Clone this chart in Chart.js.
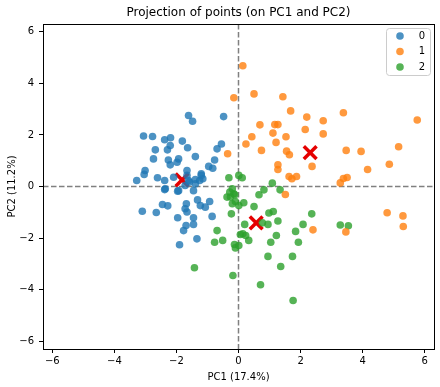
<!DOCTYPE html>
<html>
<head>
<meta charset="utf-8">
<script src="https://cdn.jsdelivr.net/npm/chart.js@4.4.1/dist/chart.umd.min.js"></script>
<style>
  html, body { margin: 0; padding: 0; background: #fff; }
  #wrap { width: 440px; height: 387px; }
</style>
</head>
<body>
<div id="wrap"><canvas id="grafica" width="440" height="387"></canvas></div>
<script>
// Datos (PC1, PC2) por grupo
var blueX = [-1.48, -1.61, -0.48, -3.06, -2.77, -2.38, -2.19, -1.81, -2.20, -2.68, -2.29, -1.64, -0.55, -0.69, -2.74, -2.26, -1.93, -1.39, -2.20, -1.98, -0.77, -0.96, -0.83, -3.01, -3.04, -2.61, -3.28, -2.38, -2.09, -1.66, -1.20, -1.39, -1.25, -1.58, -1.66, -1.20, -1.15, -1.61, -1.39, -2.38, -2.36, -1.93, -1.96, -1.45, -1.72, -1.32, -0.93, -2.45, -2.28, -1.68, -1.23, -1.07, -3.10, -2.65, -1.72, -1.66, -1.96, -1.45, -0.85, -1.69, -1.45, -1.77, -1.34, -1.90];
var blueY = [2.53, 2.75, 2.71, 1.96, 1.94, 1.81, 1.89, 1.76, 1.59, 1.42, 1.42, 1.50, 1.65, 1.46, 1.07, 1.03, 1.07, 1.16, 0.84, 0.94, 1.03, 0.78, 0.71, 0.62, 0.47, 0.34, 0.23, 0.23, 0.36, 0.62, 0.49, 0.27, 0.23, 0.17, 0.43, 0.43, 0.30, 0.23, 0.10, -0.12, -0.09, -0.16, -0.18, -0.16, 0.04, -0.52, -0.58, -0.70, -0.75, -0.67, -0.74, -0.80, -0.96, -1.01, -0.86, -0.99, -1.21, -1.21, -1.16, -1.51, -1.47, -1.71, -2.03, -2.26];

var orangeX = [0.14, -0.15, 0.50, 1.43, 1.68, 3.38, 2.20, 2.73, 0.69, 1.17, 1.27, 2.15, 2.73, 1.11, 0.43, 1.53, 0.24, 1.21, 0.74, 1.55, 1.64, 3.47, -0.35, 2.37, 1.27, 1.27, 1.63, 1.72, 1.87, 3.38, 3.50, 3.28, 1.51, 5.76, 3.95, 5.16, 4.86, 4.16, 4.79, 5.30, 5.31, 3.46, 2.40];
var orangeY = [4.68, 3.44, 3.59, 3.48, 2.93, 2.86, 2.69, 2.55, 2.39, 2.40, 2.40, 2.21, 2.04, 2.07, 1.93, 1.93, 1.65, 1.71, 1.40, 1.37, 1.23, 1.40, 1.27, 0.78, 0.84, 0.66, 0.39, 0.30, 0.39, 0.31, 0.35, 0.14, -0.31, 2.58, 1.36, 1.54, 0.86, 0.66, -1.02, -1.14, -1.55, -1.76, -1.68];

var greenX = [3.28, 3.54, -0.31, 0.01, 0.12, 1.09, 1.34, 0.66, 0.82, -0.20, -0.28, -0.37, -0.15, -0.12, -0.26, -0.10, -0.20, 0.01, 0.17, 0.50, -0.23, 0.98, 1.12, 0.77, 0.95, 1.27, 2.36, 0.20, 2.08, 1.84, 1.22, -0.69, 0.06, 0.14, 0.23, 0.33, -0.77, -0.51, -0.13, -0.10, 0.01, 1.04, 1.93, -1.42, 0.95, 1.74, 1.36, -0.18, 0.71, 1.76];
var greenY = [-1.49, -1.52, 0.34, 0.43, 0.34, 0.13, -0.13, -0.32, -0.13, -0.09, -0.22, -0.41, -0.28, -0.32, -0.41, -0.58, -0.67, -0.74, -0.63, -0.78, -1.06, -1.03, -0.97, -1.41, -1.47, -1.34, -1.06, -1.47, -1.47, -1.74, -1.90, -1.71, -1.86, -1.83, -1.90, -2.09, -2.16, -2.09, -2.25, -2.38, -2.29, -2.16, -2.16, -3.15, -2.71, -2.71, -3.10, -3.45, -3.81, -4.42];

// Centroides (cruces rojas)
var centX = [-1.82, 2.31, 0.57];
var centY = [0.26, 1.31, -1.41];

var groupLabels = ['0', '1', '2'];
var groupColors = ['rgba(31,119,180,0.8)', 'rgba(255,127,14,0.8)', 'rgba(44,160,44,0.8)'];

var xTicks = [-6, -4, -2, 0, 2, 4, 6];
var yTicks = [-6, -4, -2, 0, 2, 4, 6];
var axisMin = -6.3, axisMax = 6.3;

function pts(xs, ys) {
    return xs.map(function (x, i) { return { x: x, y: ys[i] }; });
}

function fmt(v) {
    return String(v).replace('-', '\u2212');
}

var font = 'DejaVu Sans';
Chart.defaults.font.family = font;
Chart.defaults.color = '#000';

// Líneas discontinuas en 0, marco completo y leyenda
var ejesPlugin = {
    id: 'ejes',
    beforeDatasetsDraw: function (chart) {
        var c = chart.ctx, a = chart.chartArea;
        var x0 = chart.scales.x.getPixelForValue(0);
        var y0 = chart.scales.y.getPixelForValue(0);
        c.save();
        c.strokeStyle = 'rgba(128,128,128,1)';
        c.lineWidth = 1.5;
        c.setLineDash([5.5, 2.5]);
        c.beginPath();
        c.moveTo(x0, a.top); c.lineTo(x0, a.bottom);
        c.moveTo(a.left, y0); c.lineTo(a.right, y0);
        c.stroke();
        c.restore();
    },
    afterDraw: function (chart) {
        var c = chart.ctx, a = chart.chartArea;
        c.save();
        c.strokeStyle = '#000';
        c.lineWidth = 1;
        c.strokeRect(Math.round(a.left) + 0.5, Math.round(a.top) + 0.5,
            Math.round(a.right - a.left), Math.round(a.bottom - a.top));
        // leyenda estilo matplotlib
        var bx = a.right - 48, by = a.top + 4, bw = 44, bh = 47;
        c.fillStyle = 'rgba(255,255,255,0.8)';
        c.strokeStyle = '#ccc';
        c.beginPath();
        c.roundRect(bx + 0.5, by + 0.5, bw, bh, 3);
        c.fill(); c.stroke();
        c.font = '10px ' + font;
        c.textBaseline = 'middle';
        c.textAlign = 'center';
        for (var i = 0; i < groupLabels.length; i++) {
            var yy = by + 8 + i * 15.5;
            c.fillStyle = groupColors[i];
            c.beginPath();
            c.arc(bx + 14, yy, 3.8, 0, Math.PI * 2);
            c.fill();
            c.fillStyle = '#000';
            c.fillText(groupLabels[i], bx + 36, yy);
        }
        c.restore();
    }
};

var ctx = document.getElementById('grafica').getContext('2d');
var myChart = new Chart(ctx, {
    type: 'scatter',
    data: {
        datasets: [
            { label: groupLabels[0], data: pts(blueX, blueY), backgroundColor: groupColors[0], pointRadius: 3.8, borderWidth: 0 },
            { label: groupLabels[1], data: pts(orangeX, orangeY), backgroundColor: groupColors[1], pointRadius: 3.8, borderWidth: 0 },
            { label: groupLabels[2], data: pts(greenX, greenY), backgroundColor: groupColors[2], pointRadius: 3.8, borderWidth: 0 },
            { label: 'centroides', data: pts(centX, centY), pointStyle: 'crossRot', pointRadius: 9, borderWidth: 3.5, borderColor: '#e50000', backgroundColor: '#e50000' }
        ]
    },
    options: {
        responsive: false,
        animation: false,
        layout: { autoPadding: false, padding: { top: 0, right: 6, bottom: 0, left: 0 } },
        plugins: {
            legend: { display: false },
            tooltip: { enabled: false },
            title: {
                display: true,
                fullSize: false,
                text: 'Projection of points (on PC1 and PC2)',
                font: { size: 12, weight: 'normal', family: font },
                color: '#000',
                padding: { top: 6, bottom: 3.6 }
            }
        },
        scales: {
            x: {
                type: 'linear',
                min: axisMin, max: axisMax,
                afterBuildTicks: function (axis) { axis.ticks = xTicks.map(function (v) { return { value: v }; }); },
                afterFit: function (axis) { axis.height = 38; },
                ticks: { callback: fmt, font: { size: 10 }, padding: 2, maxRotation: 0 },
                grid: { drawOnChartArea: false, drawTicks: true, tickLength: 4, tickColor: '#000' },
                border: { display: true, color: '#000' },
                title: { display: true, text: 'PC1 (17.4%)', font: { size: 10 }, padding: { top: 2, bottom: 4 } }
            },
            y: {
                type: 'linear',
                min: axisMin, max: axisMax,
                afterBuildTicks: function (axis) { axis.ticks = yTicks.map(function (v) { return { value: v }; }); },
                afterFit: function (axis) { axis.width = 43; },
                ticks: { callback: fmt, font: { size: 10 }, padding: 5 },
                grid: { drawOnChartArea: false, drawTicks: true, tickLength: 4, tickColor: '#000' },
                border: { display: true, color: '#000' },
                title: { display: true, text: 'PC2 (11.2%)', font: { size: 10 }, padding: { top: 6, bottom: 2 } }
            }
        }
    },
    plugins: [ejesPlugin]
});
</script>
</body>
</html>
